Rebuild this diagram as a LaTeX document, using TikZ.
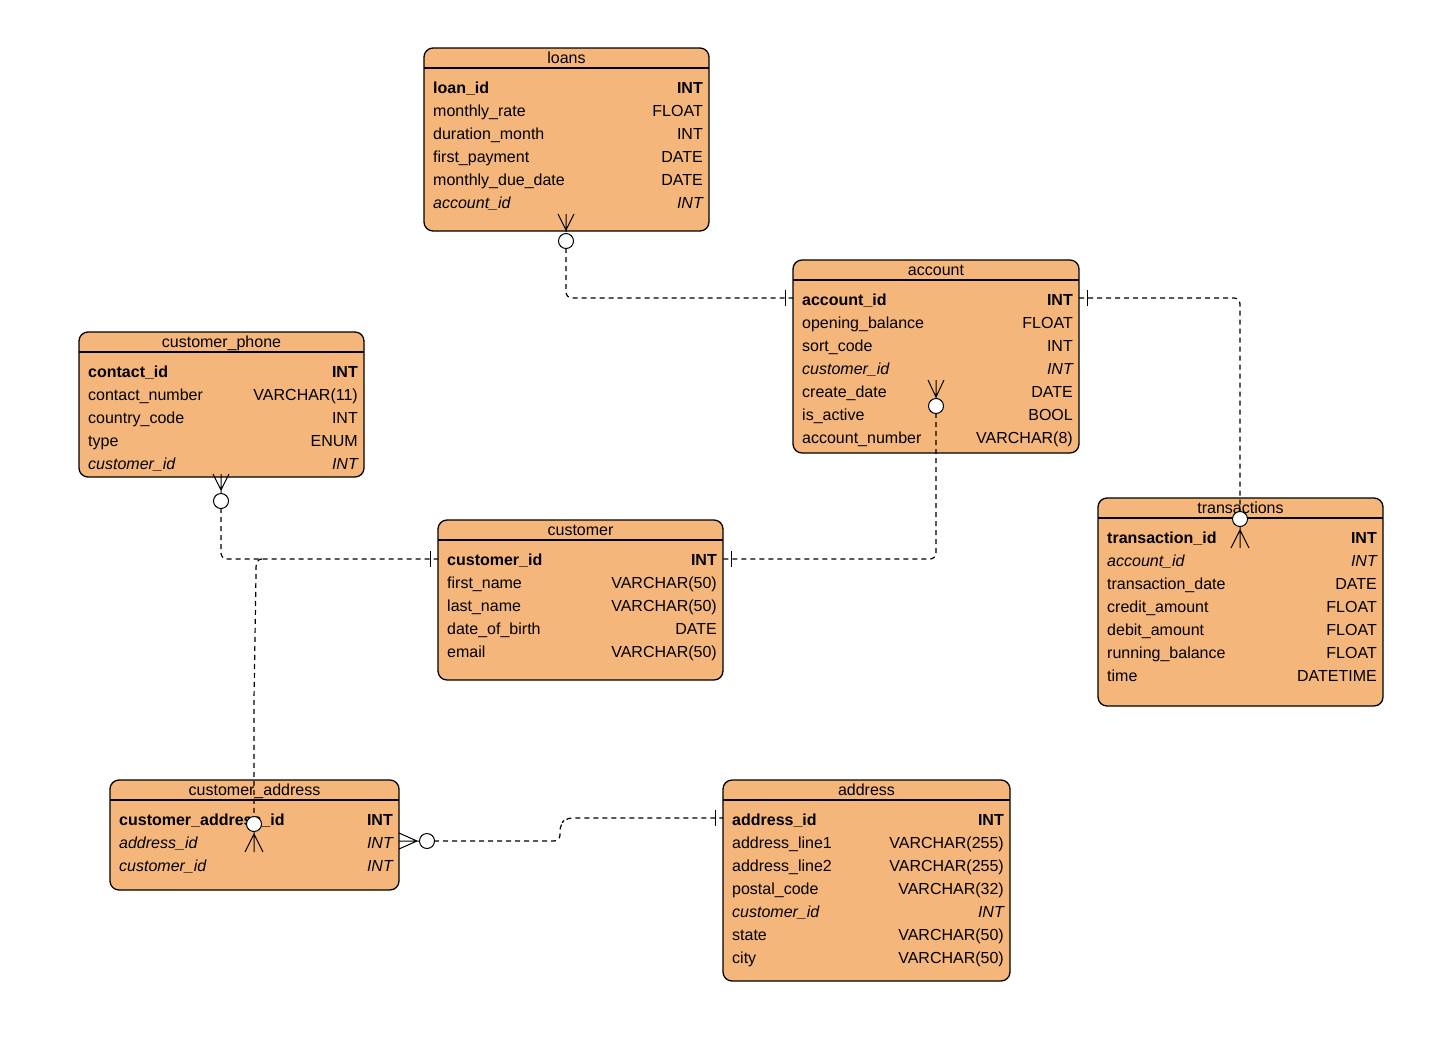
\documentclass[tikz,border=0pt]{standalone}
\usepackage{fontspec}
\setmainfont{Liberation Sans}
\definecolor{tfill}{HTML}{F4B67A}
\begin{document}
\begin{tikzpicture}[x=1pt,y=-1pt,
  box/.style={draw=black,line width=1.3pt,fill=tfill,rounded corners=9pt},
  txt/.style={inner sep=0pt,font=\fontsize{16}{19}\selectfont},
  conn/.style={dash pattern=on 5pt off 4pt,line width=1.2pt,rounded corners=6pt},
  sym/.style={line width=1pt},
  circ/.style={circle,draw,fill=white,line width=1pt,minimum size=15pt,inner sep=0pt}]
\useasboundingbox (0,0) rectangle (1444,1058);
\newcommand{\erTable}[7]{%
  \draw[box] (#2,#3) rectangle (#4,#5);
  \draw[line width=1.1pt] (#2,#3+20) -- (#4,#3+20);
  \node[txt,anchor=base] (#1-title) at ({(#2+#4)/2},#3+15) {#6};
  \coordinate (#1-nw) at (#2,#3);
  \coordinate (#1-se) at (#4,#5);
  \foreach \n/\t/\s [count=\i from 0] in {#7} {
    \node[txt,anchor=base west,font=\fontsize{16}{19}\selectfont\s] at (#2+9,#3+45+23*\i) {\n};
    \node[txt,anchor=base east,font=\fontsize{16}{19}\selectfont\s] at (#4-6,#3+45+23*\i) {\t};
  }}
\erTable{loans}{424}{48}{709}{231}{loans}{loan\_id/INT/\bfseries, monthly\_rate/FLOAT/, duration\_month/INT/, first\_payment/DATE/, monthly\_due\_date/DATE/, account\_id/INT/\itshape}
\erTable{account}{793}{260}{1079}{453}{account}{account\_id/INT/\bfseries, opening\_balance/FLOAT/, sort\_code/INT/, customer\_id/INT/\itshape, create\_date/DATE/, is\_active/BOOL/, account\_number/VARCHAR(8)/}
\erTable{phone}{79}{332}{364}{477}{customer\_phone}{contact\_id/INT/\bfseries, contact\_number/VARCHAR(11)/, country\_code/INT/, type/ENUM/, customer\_id/INT/\itshape}
\erTable{customer}{438}{520}{723}{680}{customer}{customer\_id/INT/\bfseries, first\_name/VARCHAR(50)/, last\_name/VARCHAR(50)/, date\_of\_birth/DATE/, email/VARCHAR(50)/}
\erTable{trans}{1098}{498}{1383}{706}{transactions}{transaction\_id/INT/\bfseries, account\_id/INT/\itshape, transaction\_date/DATE/, credit\_amount/FLOAT/, debit\_amount/FLOAT/, running\_balance/FLOAT/, time/DATETIME/}
\erTable{caddr}{110}{780}{399}{890}{customer\_address}{customer\_address\_id/INT/\bfseries, address\_id/INT/\itshape, customer\_id/INT/\itshape}
\erTable{addr}{723}{780}{1010}{981}{address}{address\_id/INT/\bfseries, address\_line1/VARCHAR(255)/, address\_line2/VARCHAR(255)/, postal\_code/VARCHAR(32)/, customer\_id/INT/\itshape, state/VARCHAR(50)/, city/VARCHAR(50)/}
\coordinate (c1a) at (566,248); \coordinate (c1b) at (793,298);
\coordinate (c2a) at (1079,298); \coordinate (c2b) at (1240,512);
\coordinate (c3a) at (936,413); \coordinate (c3b) at (723,559);
\coordinate (c4a) at (221,508); \coordinate (c4b) at (438,559);
\coordinate (c5a) at (262,559); \coordinate (c5b) at (254,817);
\coordinate (c6a) at (434,841); \coordinate (c6b) at (723,818);
\draw[conn] (c1a) |- (c1b);
\draw[conn] (c2a) -| (c2b);
\draw[conn] (c3a) |- (c3b);
\draw[conn] (c4a) |- (c4b);
\draw[conn] (c5a) to[out=180,in=90] (256,575) -- (254,700) -- (c5b);
\draw[conn] (c6a) -- (560,841) -- (560,825) -- (566,818) -- (c6b);
\draw[sym] (785,290) -- (785,306);
\draw[sym] (1087,290) -- (1087,306);
\draw[sym] (731,551) -- (731,567);
\draw[sym] (430,551) -- (430,567);
\draw[sym] (715,810) -- (715,826);
\draw[sym] (558,214) -- (566,230) -- (574,214) (566,214) -- (566,232);
\node[circ] (o1) at (566,241) {};
\draw[sym] (928,380) -- (936,397) -- (944,380) (936,380) -- (936,399);
\node[circ] (o3) at (936,406) {};
\draw[sym] (213,474) -- (221,490) -- (229,474) (221,474) -- (221,494);
\node[circ] (o4) at (221,501) {};
\draw[sym] (1231,548) -- (1240,530) -- (1249,548) (1240,526) -- (1240,548);
\node[circ] (o2) at (1240,519) {};
\draw[sym] (245,852) -- (254,834) -- (263,852) (254,830) -- (254,852);
\node[circ] (o5) at (254,824) {};
\draw[sym] (399,833) -- (417,841) -- (399,849) (399,841) -- (420,841);
\node[circ] (o6) at (427,841) {};
\end{tikzpicture}
\end{document}
